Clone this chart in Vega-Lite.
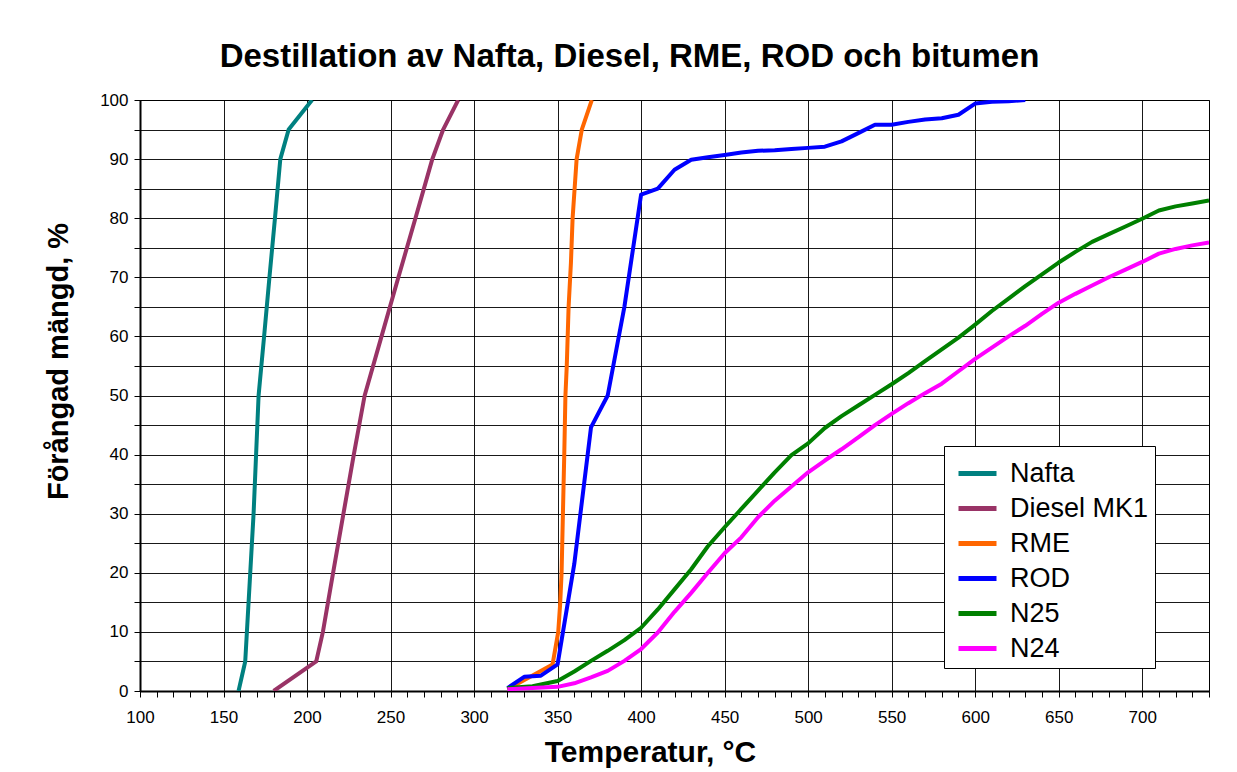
{
  "$schema": "https://vega.github.io/schema/vega-lite/v6.json",
  "width": 1069,
  "height": 591,
  "autosize": {"type": "none"},
  "padding": {"left": 140, "top": 100, "right": 28, "bottom": 81},
  "background": "white",
  "title": {
    "text": "Destillation av Nafta, Diesel, RME, ROD och bitumen",
    "font": "Liberation Sans",
    "fontSize": 33,
    "fontWeight": "bold",
    "color": "black",
    "anchor": "middle",
    "frame": "group",
    "dx": -45,
    "dy": 33,
    "baseline": "alphabetic",
    "offset": 24
  },
  "datasets": {
    "d": [
      {"s": "Nafta", "t": 159, "p": 0},
      {"s": "Nafta", "t": 163, "p": 5},
      {"s": "Nafta", "t": 164, "p": 10},
      {"s": "Nafta", "t": 166, "p": 20},
      {"s": "Nafta", "t": 168, "p": 30},
      {"s": "Nafta", "t": 169.5, "p": 40},
      {"s": "Nafta", "t": 171, "p": 50},
      {"s": "Nafta", "t": 174.3, "p": 60},
      {"s": "Nafta", "t": 177.5, "p": 70},
      {"s": "Nafta", "t": 180.8, "p": 80},
      {"s": "Nafta", "t": 184, "p": 90},
      {"s": "Nafta", "t": 189, "p": 95},
      {"s": "Nafta", "t": 203, "p": 100},

      {"s": "Diesel MK1", "t": 180, "p": 0},
      {"s": "Diesel MK1", "t": 205.5, "p": 5},
      {"s": "Diesel MK1", "t": 209.5, "p": 10},
      {"s": "Diesel MK1", "t": 215.6, "p": 20},
      {"s": "Diesel MK1", "t": 221.8, "p": 30},
      {"s": "Diesel MK1", "t": 228, "p": 40},
      {"s": "Diesel MK1", "t": 234.5, "p": 50},
      {"s": "Diesel MK1", "t": 244.6, "p": 60},
      {"s": "Diesel MK1", "t": 254.7, "p": 70},
      {"s": "Diesel MK1", "t": 264.9, "p": 80},
      {"s": "Diesel MK1", "t": 275, "p": 90},
      {"s": "Diesel MK1", "t": 281.5, "p": 95},
      {"s": "Diesel MK1", "t": 290.5, "p": 100},

      {"s": "RME", "t": 320, "p": 0.3},
      {"s": "RME", "t": 347, "p": 4.5},
      {"s": "RME", "t": 350.4, "p": 10},
      {"s": "RME", "t": 351.6, "p": 15},
      {"s": "RME", "t": 352.4, "p": 20},
      {"s": "RME", "t": 353.2, "p": 30},
      {"s": "RME", "t": 354, "p": 40},
      {"s": "RME", "t": 354.7, "p": 50},
      {"s": "RME", "t": 355.5, "p": 55},
      {"s": "RME", "t": 356.6, "p": 65},
      {"s": "RME", "t": 358, "p": 72.5},
      {"s": "RME", "t": 359, "p": 80},
      {"s": "RME", "t": 361.4, "p": 90},
      {"s": "RME", "t": 364.5, "p": 95},
      {"s": "RME", "t": 370.5, "p": 100},

      {"s": "ROD", "t": 320, "p": 0.5},
      {"s": "ROD", "t": 330, "p": 2.4},
      {"s": "ROD", "t": 340, "p": 2.6},
      {"s": "ROD", "t": 350, "p": 4.5},
      {"s": "ROD", "t": 360, "p": 21.5},
      {"s": "ROD", "t": 370, "p": 44.6},
      {"s": "ROD", "t": 380, "p": 50},
      {"s": "ROD", "t": 390, "p": 65},
      {"s": "ROD", "t": 400, "p": 84},
      {"s": "ROD", "t": 410, "p": 85},
      {"s": "ROD", "t": 420, "p": 88.2},
      {"s": "ROD", "t": 430, "p": 89.9},
      {"s": "ROD", "t": 440, "p": 90.3},
      {"s": "ROD", "t": 450, "p": 90.7},
      {"s": "ROD", "t": 460, "p": 91.1},
      {"s": "ROD", "t": 470, "p": 91.4},
      {"s": "ROD", "t": 480, "p": 91.5},
      {"s": "ROD", "t": 490, "p": 91.7},
      {"s": "ROD", "t": 500, "p": 91.9},
      {"s": "ROD", "t": 510, "p": 92.1},
      {"s": "ROD", "t": 520, "p": 93},
      {"s": "ROD", "t": 530, "p": 94.4},
      {"s": "ROD", "t": 540, "p": 95.8},
      {"s": "ROD", "t": 550, "p": 95.8},
      {"s": "ROD", "t": 560, "p": 96.3},
      {"s": "ROD", "t": 570, "p": 96.7},
      {"s": "ROD", "t": 580, "p": 96.9},
      {"s": "ROD", "t": 590, "p": 97.5},
      {"s": "ROD", "t": 600, "p": 99.4},
      {"s": "ROD", "t": 610, "p": 99.7},
      {"s": "ROD", "t": 620, "p": 99.8},
      {"s": "ROD", "t": 630, "p": 100},

      {"s": "N25", "t": 320, "p": 0.5},
      {"s": "N25", "t": 335, "p": 0.8},
      {"s": "N25", "t": 350, "p": 1.7},
      {"s": "N25", "t": 360, "p": 3.3},
      {"s": "N25", "t": 370, "p": 5.1},
      {"s": "N25", "t": 380, "p": 6.8},
      {"s": "N25", "t": 390, "p": 8.6},
      {"s": "N25", "t": 400, "p": 10.7},
      {"s": "N25", "t": 410, "p": 13.8},
      {"s": "N25", "t": 420, "p": 17.2},
      {"s": "N25", "t": 430, "p": 20.6},
      {"s": "N25", "t": 440, "p": 24.5},
      {"s": "N25", "t": 450, "p": 27.7},
      {"s": "N25", "t": 460, "p": 30.8},
      {"s": "N25", "t": 470, "p": 33.9},
      {"s": "N25", "t": 480, "p": 37},
      {"s": "N25", "t": 490, "p": 39.9},
      {"s": "N25", "t": 500, "p": 41.9},
      {"s": "N25", "t": 510, "p": 44.5},
      {"s": "N25", "t": 520, "p": 46.5},
      {"s": "N25", "t": 530, "p": 48.3},
      {"s": "N25", "t": 540, "p": 50.1},
      {"s": "N25", "t": 550, "p": 51.9},
      {"s": "N25", "t": 560, "p": 53.8},
      {"s": "N25", "t": 570, "p": 55.8},
      {"s": "N25", "t": 580, "p": 57.8},
      {"s": "N25", "t": 590, "p": 59.8},
      {"s": "N25", "t": 600, "p": 62},
      {"s": "N25", "t": 610, "p": 64.3},
      {"s": "N25", "t": 620, "p": 66.4},
      {"s": "N25", "t": 630, "p": 68.5},
      {"s": "N25", "t": 640, "p": 70.5},
      {"s": "N25", "t": 650, "p": 72.5},
      {"s": "N25", "t": 660, "p": 74.3},
      {"s": "N25", "t": 670, "p": 76},
      {"s": "N25", "t": 680, "p": 77.3},
      {"s": "N25", "t": 690, "p": 78.6},
      {"s": "N25", "t": 700, "p": 79.9},
      {"s": "N25", "t": 710, "p": 81.3},
      {"s": "N25", "t": 720, "p": 82},
      {"s": "N25", "t": 730, "p": 82.5},
      {"s": "N25", "t": 740, "p": 83},

      {"s": "N24", "t": 320, "p": 0.3},
      {"s": "N24", "t": 335, "p": 0.5},
      {"s": "N24", "t": 350, "p": 0.7},
      {"s": "N24", "t": 360, "p": 1.3},
      {"s": "N24", "t": 370, "p": 2.3},
      {"s": "N24", "t": 380, "p": 3.4},
      {"s": "N24", "t": 390, "p": 5.1},
      {"s": "N24", "t": 400, "p": 7.1},
      {"s": "N24", "t": 410, "p": 9.9},
      {"s": "N24", "t": 420, "p": 13.4},
      {"s": "N24", "t": 430, "p": 16.6},
      {"s": "N24", "t": 440, "p": 20},
      {"s": "N24", "t": 450, "p": 23.3},
      {"s": "N24", "t": 460, "p": 26},
      {"s": "N24", "t": 470, "p": 29.4},
      {"s": "N24", "t": 480, "p": 32.2},
      {"s": "N24", "t": 490, "p": 34.6},
      {"s": "N24", "t": 500, "p": 37},
      {"s": "N24", "t": 510, "p": 39},
      {"s": "N24", "t": 520, "p": 40.9},
      {"s": "N24", "t": 530, "p": 42.9},
      {"s": "N24", "t": 540, "p": 45},
      {"s": "N24", "t": 550, "p": 46.9},
      {"s": "N24", "t": 560, "p": 48.7},
      {"s": "N24", "t": 570, "p": 50.4},
      {"s": "N24", "t": 580, "p": 52},
      {"s": "N24", "t": 590, "p": 54.1},
      {"s": "N24", "t": 600, "p": 56.2},
      {"s": "N24", "t": 610, "p": 58.1},
      {"s": "N24", "t": 620, "p": 60},
      {"s": "N24", "t": 630, "p": 61.8},
      {"s": "N24", "t": 640, "p": 63.8},
      {"s": "N24", "t": 650, "p": 65.7},
      {"s": "N24", "t": 660, "p": 67.2},
      {"s": "N24", "t": 670, "p": 68.6},
      {"s": "N24", "t": 680, "p": 70},
      {"s": "N24", "t": 690, "p": 71.3},
      {"s": "N24", "t": 700, "p": 72.6},
      {"s": "N24", "t": 710, "p": 74},
      {"s": "N24", "t": 720, "p": 74.8},
      {"s": "N24", "t": 730, "p": 75.4},
      {"s": "N24", "t": 740, "p": 75.9}
    ]
  },
  "data": {"name": "d"},
  "mark": {"type": "line", "strokeWidth": 4, "strokeJoin": "round", "strokeCap": "butt", "clip": true},
  "encoding": {
    "x": {
      "field": "t",
      "type": "quantitative",
      "scale": {"domain": [100, 740], "nice": false, "zero": false},
      "axis": {
        "title": "Temperatur, °C",
        "values": [100,110,120,130,140,150,160,170,180,190,200,210,220,230,240,250,260,270,280,290,300,310,320,330,340,350,360,370,380,390,400,410,420,430,440,450,460,470,480,490,500,510,520,530,540,550,560,570,580,590,600,610,620,630,640,650,660,670,680,690,700,710,720,730,740],
        "format": "d",
        "labelExpr": "datum.value % 50 === 0 ? datum.label : ''",
        "labelOverlap": false,
        "labelFlush": false,
        "labelFont": "Liberation Sans",
        "labelFontSize": 17,
        "labelColor": "black",
        "labelPadding": 12,
        "tickSize": 6,
        "tickColor": "black",
        "tickWidth": 1,
        "domainColor": "black",
        "domainWidth": 2,
        "grid": true,
        "gridColor": "black",
        "gridWidth": 1,
        "gridOpacity": {"condition": {"test": "datum.value % 50 === 0", "value": 0.9}, "value": 0},
        "titleFont": "Liberation Sans",
        "titleFontSize": 30,
        "titleFontWeight": "bold",
        "titleColor": "black",
        "titleX": 510,
        "titleY": 70,
        "titleBaseline": "alphabetic"
      }
    },
    "y": {
      "field": "p",
      "type": "quantitative",
      "scale": {"domain": [0, 100], "nice": false},
      "axis": {
        "title": "Förångad mängd, %",
        "values": [0,5,10,15,20,25,30,35,40,45,50,55,60,65,70,75,80,85,90,95,100],
        "labelExpr": "datum.value % 10 === 0 ? datum.label : ''",
        "labelOverlap": false,
        "labelFlush": false,
        "labelFont": "Liberation Sans",
        "labelFontSize": 17,
        "labelColor": "black",
        "labelPadding": 6,
        "tickSize": 6,
        "tickColor": "black",
        "tickWidth": 1,
        "domainColor": "black",
        "domainWidth": 2,
        "grid": true,
        "gridColor": "black",
        "gridWidth": 1,
        "gridOpacity": 0.9,
        "titleFont": "Liberation Sans",
        "titleFontSize": 29,
        "titleFontWeight": "bold",
        "titleColor": "black",
        "titleAngle": -90,
        "titleX": -73,
        "titleY": 261,
        "titleAlign": "center",
        "titleBaseline": "alphabetic"
      }
    },
    "color": {
      "field": "s",
      "type": "nominal",
      "scale": {
        "domain": ["Nafta", "Diesel MK1", "RME", "ROD", "N25", "N24"],
        "range": ["#008080", "#993366", "#FF6600", "#0000FF", "#008000", "#FF00FF"]
      },
      "legend": {
        "title": null,
        "orient": "none",
        "legendX": 804,
        "legendY": 346,
        "symbolType": "stroke",
        "symbolSize": 1444,
        "symbolStrokeWidth": 5,
        "symbolOffset": 6,
        "labelFont": "Liberation Sans",
        "labelFontSize": 27,
        "labelColor": "black",
        "labelOffset": 11,
        "labelLimit": 400,
        "rowPadding": 0,
        "padding": 6,
        "strokeColor": "black",
        "fillColor": "white",
        "cornerRadius": 0
      }
    }
  },
  "config": {
    "view": {"stroke": "black", "strokeWidth": 1},
    "font": "Liberation Sans"
  }
}
